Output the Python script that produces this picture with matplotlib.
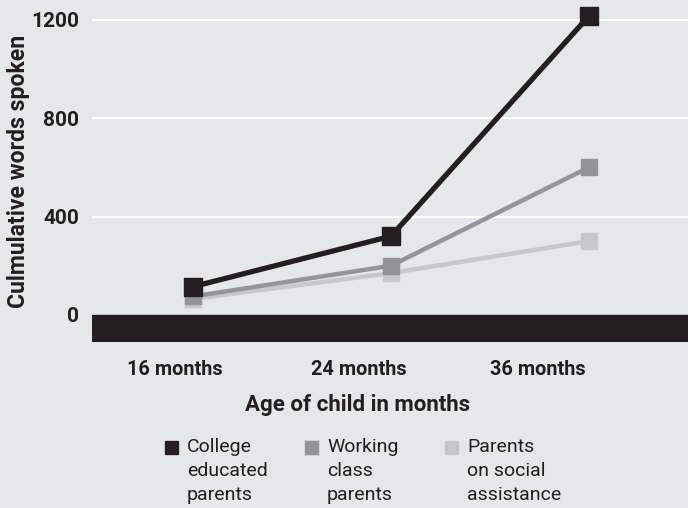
import matplotlib.pyplot as plt
import matplotlib.patches as mpatches

# Data
ages = ["16 months", "24 months", "36 months"]
college = [115, 320, 1215]
working = [75, 200, 600]
social = [65, 170, 300]
series_names = ["College\neducated\nparents", "Working\nclass\nparents", "Parents\non social\nassistance"]

BG = "#e6e7e8"
INK = "#231f20"
colors = [INK, "#939598", "#c7c8ca"]

plt.rcParams["font.family"] = ["Roboto", "DejaVu Sans"]

W, H = 688, 508
fig = plt.figure(figsize=(W / 100, H / 100), dpi=100, facecolor=BG)
ax = fig.add_axes([92 / W, (H - 342) / H, 1 - 92 / W, 342 / H])
ax.set_facecolor(BG)

x = list(range(len(ages)))
ax.set_xlim(-0.51, 2.5)
ax.set_ylim(-110, 1280)

# grid and the thick baseline band
for yv in [400, 800, 1200]:
    ax.axhline(yv, color="white", lw=1.6, zorder=1)
ax.axhspan(-110, 0, color=INK, zorder=2)

# lines, lightest drawn first
ax.plot(x, social, color=colors[2], lw=3.2, marker="s", ms=11.5, zorder=3)
ax.plot(x, working, color=colors[1], lw=3.2, marker="s", ms=11.5, zorder=4)
ax.plot(x, college, color=colors[0], lw=3.8, marker="s", ms=12.5, zorder=5)

for s in ax.spines.values():
    s.set_visible(False)

ax.set_yticks([0, 400, 800, 1200])
ax.set_yticklabels(["0", "400", "800", "1200"], fontsize=15, fontweight="bold", color=INK)
ax.tick_params(axis="y", length=0, pad=9)

# tick labels sit a bit left of the markers in the original
ax.set_xticks([-0.09, 0.84, 1.74])
ax.set_xticklabels(ages, fontsize=14.3, fontweight="bold", color=INK)
ax.tick_params(axis="x", length=0, pad=13)

ax.set_ylabel("Culmulative words spoken", fontsize=16.6, fontweight="bold", color=INK)
ax.yaxis.label.set_va("center")
ax.yaxis.set_label_coords(-0.124, 0.5)
ax.set_xlabel("Age of child in months", fontsize=16, fontweight="bold", color=INK)
ax.xaxis.label.set_va("center")
ax.xaxis.set_label_coords(0.445, -0.184)

# manual legend
for i, (name, c) in enumerate(zip(series_names, colors)):
    sx = 171 + 140 * i
    fig.patches.append(mpatches.Rectangle(((sx - 6.5) / W, 1 - (447 + 6.5) / H), 13 / W, 13 / H,
                                          transform=fig.transFigure, color=c, figure=fig))
    fig.text((sx + 16) / W, 1 - 438 / H, name, fontsize=14, color=INK, va="top", ha="left",
             linespacing=1.42)

fig.savefig("out.png", dpi=100, facecolor=BG)
